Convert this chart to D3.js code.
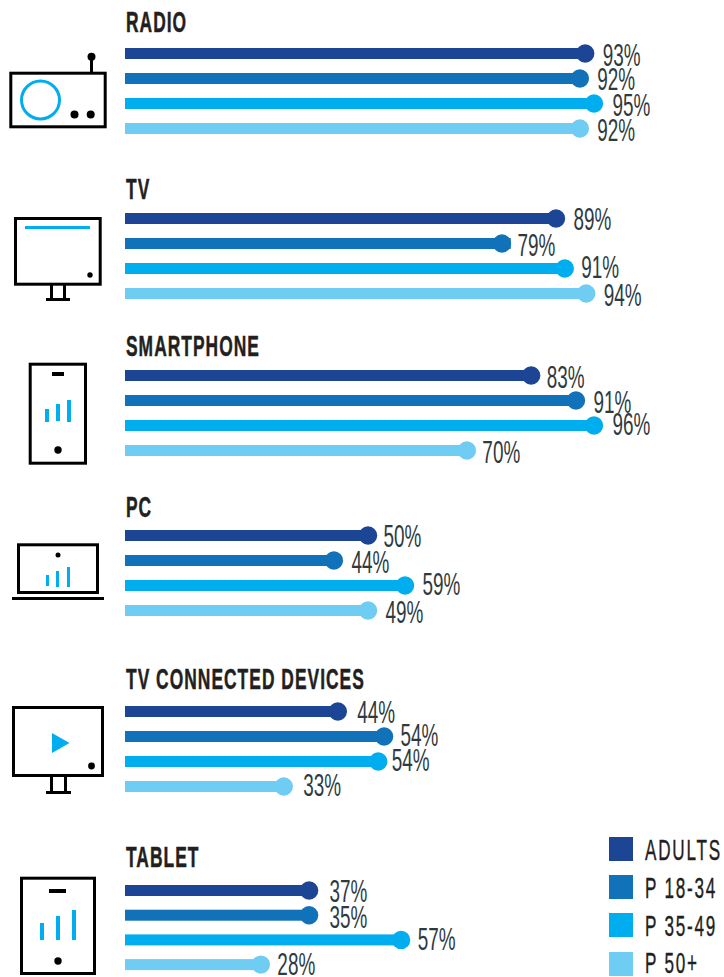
<!DOCTYPE html>
<html>
<head>
<meta charset="utf-8">
<script src="https://cdn.jsdelivr.net/npm/d3@7"></script>
<style>
html, body { margin: 0; padding: 0; background: #fff; }
svg { display: block; }
text { font-family: "Liberation Sans", sans-serif; }
</style>
</head>
<body>
<div id="chart"></div>
<script>
var categories = ["RADIO", "TV", "SMARTPHONE", "PC", "TV CONNECTED DEVICES", "TABLET"];
var seriesNames = ["ADULTS", "P 18-34", "P 35-49", "P 50+"];
var seriesColors = ["#1c4595", "#1172b9", "#00aeef", "#6fcdf4"];

// Printed percentages
var adults = [93, 89, 83, 50, 44, 37];
var p1834 = [92, 79, 91, 44, 54, 35];
var p3549 = [95, 91, 96, 59, 54, 57];
var p50 = [92, 94, 70, 49, 33, 28];

// Where the dots actually sit in the picture, the artwork is not quite to scale
var adultsDrawn = [94.5, 88.5, 83.4, 49.9, 43.7, 37.8];
var p1834Drawn = [93.4, 77.4, 92.6, 42.9, 53.2, 37.8];
var p3549Drawn = [96.3, 90.3, 96.3, 57.5, 52, 56.7];
var p50Drawn = [93.4, 94.7, 70.2, 49.9, 32.6, 27.9];

var labels = [adults, p1834, p3549, p50];
var drawn = [adultsDrawn, p1834Drawn, p3549Drawn, p50Drawn];

var w = 724;
var h = 977;
var barHeight = 11;
var dotRadius = 9.2;
var blue = "#00aeef";

// Top of the first bar and baseline of the title in each group
var groupTop = [48, 213, 370, 530, 706, 885];
var titleBase = [32, 199, 356, 517, 689, 867];
var rowStep = [25, 25, 25, 25, 25, 24.7];

// The labels were hand placed in the original, so nudge them by row
var nudgeX = [
    [0, 0, -2, -2, 2, 3],
    [0, -2, 0, 0, -1, 3],
    [1, -1, 1, 0, -4, -1],
    [0, 0, -2, 0, 2, -1]
];
var nudgeY = [
    [0, -1, 0, -1, -1, -1],
    [-1, 0, 0, 0, -3, 1],
    [0, -3, -3, -3, -3, -2],
    [0, 0, 0, 0, -3, -2]
];

var xScale = d3.scaleLinear().domain([0, 100]).range([125, 612]);

var svg = d3.select("#chart")
    .append("svg")
    .attr("width", w)
    .attr("height", h);

categories.forEach(function(name, c) {
    svg.append("text")
        .attr("transform", "translate(126," + titleBase[c] + ") scale(0.6,1)")
        .attr("font-size", 29)
        .attr("font-weight", "bold")
        .attr("letter-spacing", 1.7)
        .attr("fill", "#231f20")
        .attr("stroke", "#231f20")
        .attr("stroke-width", 0.5)
        .text(name);

    seriesNames.forEach(function(s, i) {
        var cy = groupTop[c] + i * rowStep[c] + barHeight / 2;
        var v = drawn[i][c];
        // the TV 18-34 bar runs on past its dot
        var barEnd = (c === 1 && i === 1) ? xScale(79.2) : xScale(v);

        svg.append("rect")
            .attr("x", xScale(0))
            .attr("y", cy - barHeight / 2)
            .attr("width", barEnd - xScale(0))
            .attr("height", barHeight)
            .attr("fill", seriesColors[i]);

        svg.append("circle")
            .attr("cx", xScale(v))
            .attr("cy", cy)
            .attr("r", dotRadius)
            .attr("fill", seriesColors[i]);

        var lx = xScale(v) + 17.5 + nudgeX[i][c];
        var ly = cy + 12 + nudgeY[i][c];
        svg.append("text")
            .attr("transform", "translate(" + lx + "," + ly + ") scale(0.61,1)")
            .attr("font-size", 31)
            .attr("fill", "#2f3a3f")
            .text(labels[i][c] + "%");
    });
});

// Legend
var legendTop = [837, 875, 913, 952];
var legendBase = [860, 898, 936, 973];
seriesNames.forEach(function(s, i) {
    svg.append("rect")
        .attr("x", 609)
        .attr("y", legendTop[i])
        .attr("width", 24)
        .attr("height", 24)
        .attr("fill", seriesColors[i]);
    svg.append("text")
        .attr("transform", "translate(645," + legendBase[i] + ") scale(0.59,1)")
        .attr("font-size", 29)
        .attr("letter-spacing", 3)
        .attr("fill", "#231f20")
        .attr("stroke", "#231f20")
        .attr("stroke-width", 0.4)
        .text(s);
});

// Icons
var icons = svg.append("g");

function box(x1, y1, x2, y2) {
    icons.append("rect")
        .attr("x", x1).attr("y", y1)
        .attr("width", x2 - x1).attr("height", y2 - y1)
        .attr("fill", "none")
        .attr("stroke", "#000")
        .attr("stroke-width", 3);
}
function solid(x1, y1, x2, y2, color) {
    icons.append("rect")
        .attr("x", x1).attr("y", y1)
        .attr("width", x2 - x1).attr("height", y2 - y1)
        .attr("fill", color || "#000");
}
function dot(x, y, r) {
    icons.append("circle").attr("cx", x).attr("cy", y).attr("r", r).attr("fill", "#000");
}

// radio
box(10.8, 73.2, 105.2, 126.8);
solid(90, 60, 93, 73);
dot(91.5, 56.7, 4);
icons.append("circle")
    .attr("cx", 40.5).attr("cy", 100).attr("r", 19)
    .attr("fill", "none").attr("stroke", blue).attr("stroke-width", 3);
dot(74.5, 114.5, 4);
dot(90.7, 114.5, 4);

// tv
box(15.5, 218.5, 100.2, 284.2);
solid(25, 226, 90, 229, blue);
dot(90, 275, 2.7);
solid(50, 285, 53, 298);
solid(63, 285, 66, 298);
solid(46, 298, 70, 301);

// smartphone
box(30.2, 364.2, 85.5, 463.2);
solid(52, 372, 64, 376);
solid(45, 409, 49, 422, blue);
solid(56, 404, 60, 421, blue);
solid(67, 400, 71, 422, blue);
dot(58, 450, 3.7);

// laptop
box(18.5, 544.8, 97.5, 592.5);
solid(12, 597, 104, 600);
dot(58, 555, 2.5);
solid(46, 575, 49, 586, blue);
solid(56, 571, 59, 587, blue);
solid(67, 567, 70, 587, blue);

// connected tv
box(13.5, 707.5, 102.5, 775.5);
icons.append("path").attr("d", "M52,733L69.5,743L52,753Z").attr("fill", blue);
dot(91.5, 766, 3.4);
solid(50, 777, 53, 792);
solid(64, 777, 67, 792);
solid(46, 791, 71, 794);

// tablet
box(21.5, 878.2, 94.5, 973.5);
solid(49, 889, 66, 893);
solid(40, 923, 44, 940, blue);
solid(56, 916, 60, 940, blue);
solid(72, 910, 76, 940, blue);
dot(58, 961, 3.7);
</script>
</body>
</html>
